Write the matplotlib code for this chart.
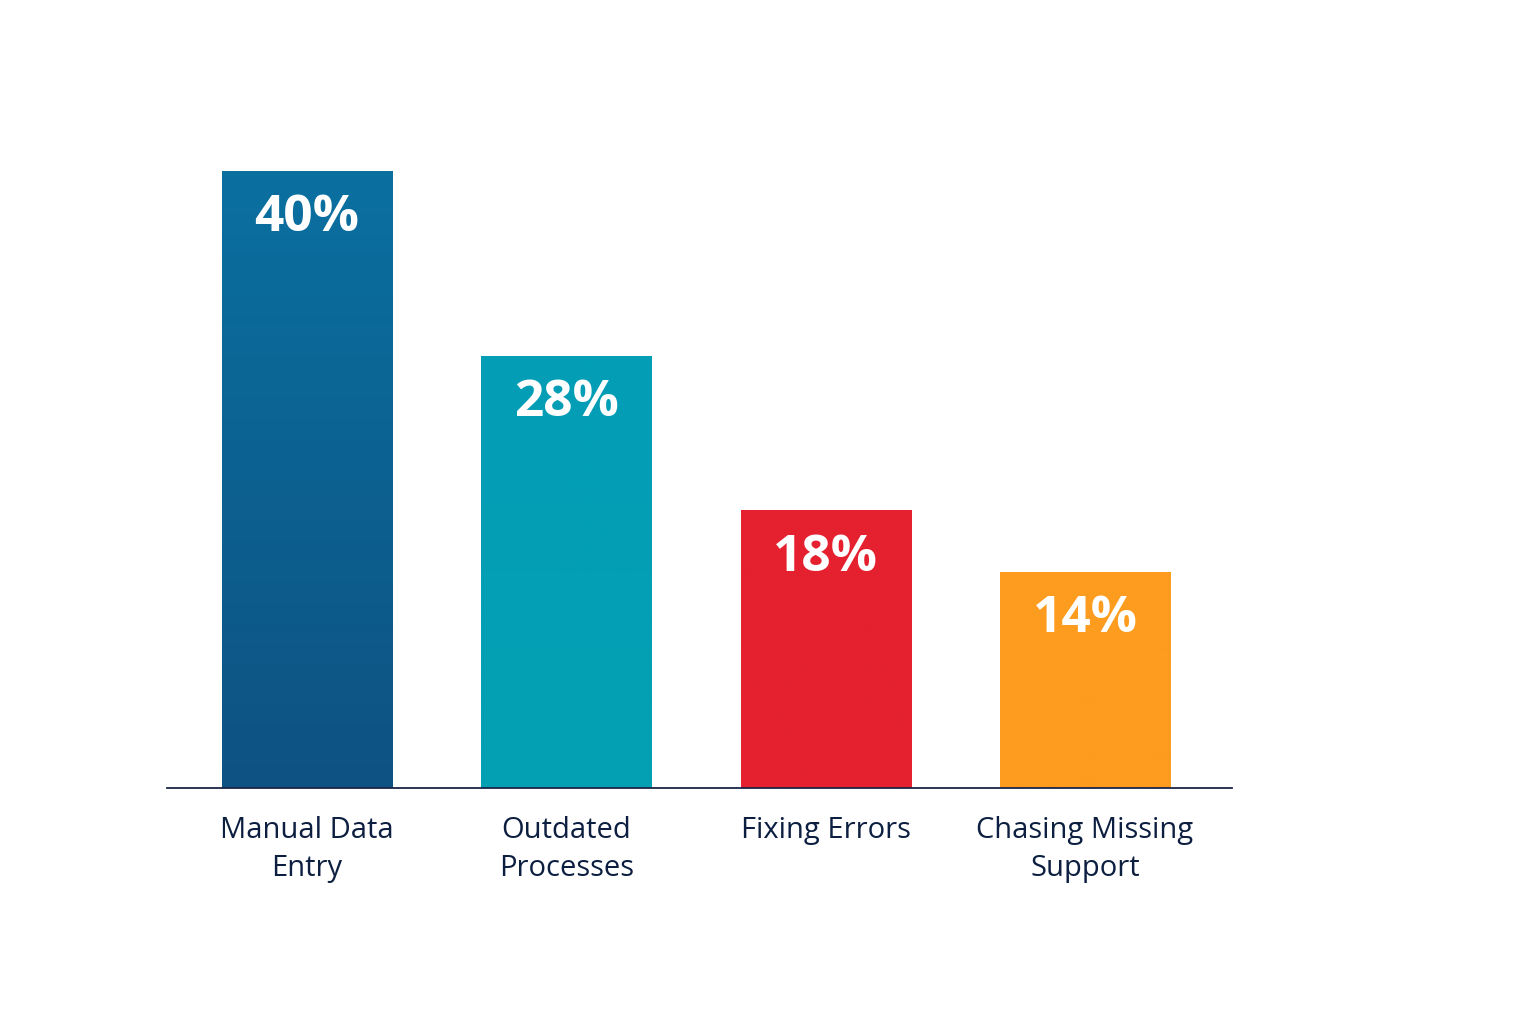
import matplotlib.pyplot as plt
import numpy as np
from matplotlib.colors import LinearSegmentedColormap

# dados do gráfico
categorias = ['Manual Data\nEntry', 'Outdated\nProcesses', 'Fixing Errors', 'Chasing Missing\nSupport']
valores = [40, 28, 18, 14]
rotulos = ['40%', '28%', '18%', '14%']
cor_topo = ['#0a70a0', '#039eb6', '#e5202f', '#fd9c1e']
cor_base = ['#0e5282', '#03a0b3', '#e5222f', '#fd9c20']

plt.rcParams['font.family'] = ['Open Sans', 'DejaVu Sans']

fig = plt.figure(figsize=(15.36, 10.24), dpi=100)
ax = fig.add_axes([167/1536, 1-788/1024, (1232-167)/1536, (788-171)/1024])

x = np.arange(len(valores))
largura = 0.656
barras = ax.bar(x, valores, width=largura, color='none', edgecolor='none')

# degradê vertical em cada barra
for b, c1, c2 in zip(barras, cor_topo, cor_base):
    cmap = LinearSegmentedColormap.from_list('g', [c2, c1])
    grad = np.linspace(0, 1, 256).reshape(-1, 1)
    x0, y0 = b.get_x(), b.get_y()
    im = ax.imshow(grad, cmap=cmap, aspect='auto', origin='lower',
                   extent=[x0, x0 + b.get_width(), y0, y0 + b.get_height()], zorder=2)
    im.set_clip_path(b)

for xi, v, r in zip(x, valores, rotulos):
    ax.annotate(r, (xi, v), xytext=(0, -16), textcoords='offset points',
                ha='center', va='top', color='white', fontsize=37, fontweight='bold', zorder=3)

ax.set_xlim(-0.54, 3.567)
ax.set_ylim(0, 40)

for s in ['top', 'right', 'left']:
    ax.spines[s].set_visible(False)
ax.spines['bottom'].set_color('#1a2547')
ax.spines['bottom'].set_linewidth(1.3)
ax.spines['bottom'].set_zorder(4)

ax.set_yticks([])
ax.set_xticks(x)
ax.set_xticklabels(categorias, fontsize=21, color='#0d1f40', linespacing=1.4)
ax.tick_params(axis='x', length=0, pad=20)

fig.savefig('out.png', dpi=100, facecolor='white')
